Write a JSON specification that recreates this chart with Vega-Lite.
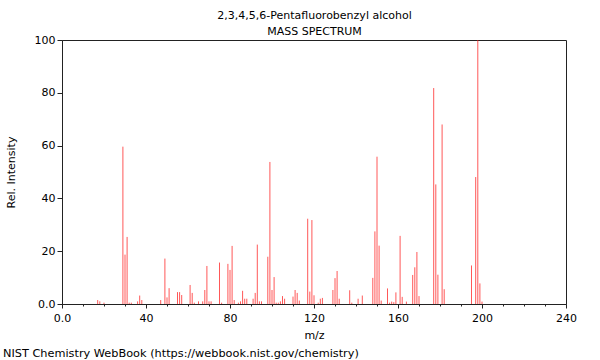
{
  "$schema": "https://vega.github.io/schema/vega-lite/v6.json",
  "width": 504,
  "height": 264,
  "autosize": "none",
  "padding": {"left": 62, "top": 40, "right": 34, "bottom": 56},
  "background": "white",
  "config": {
    "font": "DejaVu Sans",
    "view": {"stroke": "#222", "strokeWidth": 1},
    "axis": {
      "domainColor": "#222",
      "tickColor": "#222",
      "labelColor": "#000",
      "titleColor": "#000",
      "labelFontSize": 11,
      "titleFontSize": 11,
      "titleFontWeight": "normal",
      "grid": false
    },
    "title": {"fontSize": 11, "fontWeight": "normal", "color": "#000"}
  },
  "title": {
    "text": "NIST Chemistry WebBook (https://webbook.nist.gov/chemistry)",
    "orient": "bottom",
    "anchor": "start",
    "frame": "group",
    "dx": -59,
    "offset": 8,
    "fontSize": 11.3
  },
  "data": {
    "values": [
      {"mz": 17, "intensity": 1.5}, {"mz": 18, "intensity": 1}, {"mz": 20, "intensity": 0.5},
      {"mz": 29, "intensity": 59.6}, {"mz": 30, "intensity": 18.7}, {"mz": 31, "intensity": 25.4},
      {"mz": 32, "intensity": 0.5}, {"mz": 33, "intensity": 0.5}, {"mz": 36, "intensity": 1},
      {"mz": 37, "intensity": 3.2}, {"mz": 38, "intensity": 1.5}, {"mz": 47, "intensity": 1.5},
      {"mz": 49, "intensity": 17.2}, {"mz": 50, "intensity": 2.5}, {"mz": 51, "intensity": 6},
      {"mz": 55, "intensity": 4.5}, {"mz": 56, "intensity": 4.5}, {"mz": 57, "intensity": 3.4},
      {"mz": 61, "intensity": 7.2}, {"mz": 62, "intensity": 4.2}, {"mz": 63, "intensity": 0.5},
      {"mz": 65, "intensity": 1}, {"mz": 67, "intensity": 1}, {"mz": 68, "intensity": 5.3},
      {"mz": 69, "intensity": 14.4}, {"mz": 70, "intensity": 1}, {"mz": 71, "intensity": 1},
      {"mz": 75, "intensity": 15.7}, {"mz": 76, "intensity": 0.5}, {"mz": 79, "intensity": 15.2},
      {"mz": 80, "intensity": 12.9}, {"mz": 81, "intensity": 22}, {"mz": 82, "intensity": 1.5},
      {"mz": 84, "intensity": 0.5}, {"mz": 85, "intensity": 1}, {"mz": 86, "intensity": 5},
      {"mz": 87, "intensity": 2}, {"mz": 88, "intensity": 2}, {"mz": 91, "intensity": 2},
      {"mz": 92, "intensity": 4.2}, {"mz": 93, "intensity": 22.5}, {"mz": 94, "intensity": 1},
      {"mz": 95, "intensity": 1}, {"mz": 98, "intensity": 17.9}, {"mz": 99, "intensity": 53.8},
      {"mz": 100, "intensity": 5.3}, {"mz": 101, "intensity": 10.2}, {"mz": 102, "intensity": 0.5},
      {"mz": 103, "intensity": 0.5}, {"mz": 104, "intensity": 1}, {"mz": 105, "intensity": 3},
      {"mz": 106, "intensity": 2}, {"mz": 110, "intensity": 2.8}, {"mz": 111, "intensity": 5.3},
      {"mz": 112, "intensity": 4.2}, {"mz": 113, "intensity": 1.3}, {"mz": 117, "intensity": 32.3},
      {"mz": 118, "intensity": 4.7}, {"mz": 119, "intensity": 31.8}, {"mz": 120, "intensity": 3.3},
      {"mz": 122, "intensity": 0.5}, {"mz": 123, "intensity": 2}, {"mz": 124, "intensity": 2.3},
      {"mz": 129, "intensity": 5.3}, {"mz": 130, "intensity": 9.8}, {"mz": 131, "intensity": 12.5},
      {"mz": 132, "intensity": 2}, {"mz": 137, "intensity": 5.2}, {"mz": 138, "intensity": 0.5},
      {"mz": 141, "intensity": 2}, {"mz": 143, "intensity": 3.2}, {"mz": 148, "intensity": 9.9},
      {"mz": 149, "intensity": 27.5}, {"mz": 150, "intensity": 55.8}, {"mz": 151, "intensity": 22.1},
      {"mz": 152, "intensity": 1.3}, {"mz": 155, "intensity": 5.9}, {"mz": 156, "intensity": 0.5},
      {"mz": 157, "intensity": 0.9}, {"mz": 158, "intensity": 0.7}, {"mz": 159, "intensity": 4.4},
      {"mz": 161, "intensity": 25.8}, {"mz": 162, "intensity": 2.7}, {"mz": 164, "intensity": 0.9},
      {"mz": 167, "intensity": 11}, {"mz": 168, "intensity": 13.9}, {"mz": 169, "intensity": 19.7},
      {"mz": 170, "intensity": 3}, {"mz": 177, "intensity": 81.8}, {"mz": 178, "intensity": 45.3},
      {"mz": 179, "intensity": 11.1}, {"mz": 181, "intensity": 68}, {"mz": 182, "intensity": 5.6},
      {"mz": 195, "intensity": 14.6}, {"mz": 197, "intensity": 48.1}, {"mz": 198, "intensity": 100},
      {"mz": 199, "intensity": 7.8}, {"mz": 200, "intensity": 0.9}
    ]
  },
  "layer": [
    {
      "mark": {"type": "rule", "stroke": "#ff2020", "strokeOpacity": 0.75, "strokeWidth": 1},
      "encoding": {
        "x": {
          "field": "mz", "type": "quantitative",
          "scale": {"domain": [0, 240], "nice": false, "zero": false},
          "axis": {
            "title": "m/z",
            "values": [0, 10, 20, 30, 40, 50, 60, 70, 80, 90, 100, 110, 120, 130, 140, 150, 160, 170, 180, 190, 200, 210, 220, 230, 240],
            "labelExpr": "datum.value === 0 ? '0.0' : (datum.value % 40 === 0 ? datum.label : '')",
            "tickSize": {"condition": {"test": "datum.value % 40 === 0", "value": 4}, "value": 2},
            "labelPadding": 4,
            "titlePadding": 6,
            "labelFlush": false,
            "labelOverlap": false
          }
        },
        "y": {
          "field": "intensity", "type": "quantitative",
          "scale": {"domain": [0, 100], "nice": false},
          "axis": {
            "title": "Rel. Intensity",
            "values": [0, 5, 10, 15, 20, 25, 30, 35, 40, 45, 50, 55, 60, 65, 70, 75, 80, 85, 90, 95, 100],
            "labelExpr": "datum.value === 0 ? '0.0' : (datum.value % 20 === 0 ? datum.label : '')",
            "tickSize": {"condition": {"test": "datum.value % 20 === 0", "value": 5}, "value": 3},
            "labelPadding": 2,
            "titlePadding": 18,
            "labelFlush": false,
            "labelOverlap": false
          }
        },
        "y2": {"datum": 0}
      }
    },
    {
      "mark": {"type": "point", "opacity": 0, "size": 0},
      "encoding": {
        "x": {
          "field": "mz", "type": "quantitative",
          "scale": {"domain": [0, 240], "nice": false, "zero": false},
          "axis": {
            "orient": "top",
            "title": ["2,3,4,5,6-Pentafluorobenzyl alcohol", "MASS SPECTRUM"],
            "titleLineHeight": 16,
            "domain": false,
            "ticks": false,
            "labels": false,
            "titlePadding": 4
          }
        },
        "y": {"field": "intensity", "type": "quantitative"}
      }
    }
  ],
  "resolve": {"scale": {"x": "independent"}, "axis": {"x": "independent"}}
}
